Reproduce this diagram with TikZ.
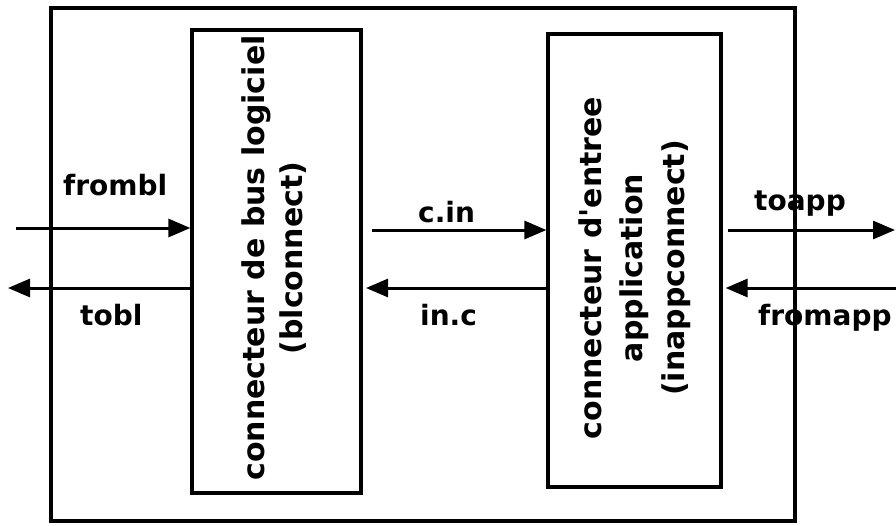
\documentclass[tikz,border=0pt]{standalone}
\usepackage{fontspec}
\setmainfont{DejaVu Sans}[Ligatures=TeXOff]
\usetikzlibrary{arrows.meta}
\begin{document}
\begin{tikzpicture}[x=1pt,y=-1pt,
  box/.style={draw, line width=3.2pt, inner sep=0pt},
  conn/.style={line width=3pt, -{Triangle[length=22pt,width=18pt]}},
  lbl/.style={font=\bfseries\fontsize{28}{28}\selectfont, anchor=base west, inner sep=0pt},
  vtxt/.style={rotate=90, align=center, inner sep=0pt}]
\useasboundingbox (0,0) rectangle (896,525);
% boxes
\node[box, minimum width=744pt, minimum height=513pt] (outer) at (423,264.5) {};
\node[box, minimum width=169pt, minimum height=463pt] (bl) at (276.5,261.5) {};
\node[box, minimum width=173pt, minimum height=453pt] (ia) at (634.5,260.5) {};
% box texts
\node[vtxt, font=\bfseries\fontsize{30}{38}\selectfont] (bltext) at (274,258)
  {connecteur de bus logiciel\\(blconnect)};
\node[vtxt, font=\bfseries\fontsize{30}{41.5}\selectfont] (iatext) at (634.5,268)
  {connecteur d'entree\\application\\(inappconnect)};
% connector end points
\coordinate (fbStart) at (16,228);
\coordinate (tbEnd) at (8,288);
\coordinate (ciStart) at (372,230);
\coordinate (icEnd) at (366,288);
\coordinate (taStart) at (728,230);
\coordinate (taEnd) at (895,230);
\coordinate (faStart) at (896,288);
% connectors
\draw[conn] (fbStart) -- (fbStart -| bl.west);
\draw[conn] (bl.west |- tbEnd) -- (tbEnd);
\draw[conn] (ciStart) -- (ciStart -| ia.west);
\draw[conn] (ia.west |- icEnd) -- (icEnd);
\draw[conn] (taStart) -- (taEnd);
\draw[conn] (faStart) -- ([xshift=3pt]ia.east |- faStart);
% labels
\node[lbl] (lfrombl) at (63,195) {frombl};
\node[lbl] (ltobl) at (80,325) {tobl};
\node[lbl] (lcin) at (418,222) {c.in};
\node[lbl] (linc) at (420,325) {in.c};
\node[lbl] (ltoapp) at (754,210) {toapp};
\node[lbl] (lfromapp) at (758,325) {fromapp};
\end{tikzpicture}
\end{document}
